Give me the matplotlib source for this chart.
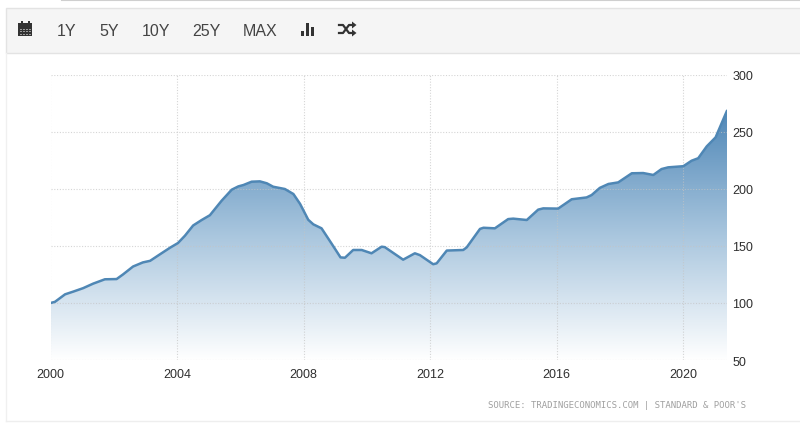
import matplotlib
matplotlib.use("Agg")
import matplotlib.pyplot as plt
from matplotlib.colors import LinearSegmentedColormap
from matplotlib.patches import Rectangle, Polygon
import numpy as np

W, H = 800, 431

years = [2000.0, 2000.14, 2000.46, 2000.72, 2001.03, 2001.35, 2001.72, 2002.09, 2002.29, 2002.61,
         2002.92, 2003.15, 2003.46, 2003.78, 2004.03, 2004.25, 2004.51, 2004.78, 2005.04, 2005.41,
         2005.73, 2005.94, 2006.10, 2006.36, 2006.62, 2006.84, 2007.04, 2007.41, 2007.68, 2007.89,
         2008.15, 2008.31, 2008.57, 2008.89, 2009.17, 2009.31, 2009.57, 2009.84, 2010.15, 2010.47,
         2010.57, 2011.15, 2011.52, 2011.68, 2012.10, 2012.21, 2012.53, 2013.05, 2013.16, 2013.58,
         2013.69, 2014.05, 2014.47, 2014.63, 2015.06, 2015.42, 2015.58, 2016.05, 2016.48, 2016.95,
         2017.11, 2017.37, 2017.64, 2017.95, 2018.38, 2018.74, 2019.06, 2019.32, 2019.53, 2020.01,
         2020.27, 2020.48, 2020.75, 2021.03, 2021.39]
values = [100, 101, 107.6, 110, 113, 117, 120.8, 121, 125, 132,
          135.6, 137, 142.7, 148.5, 152.6, 159, 168, 172.8, 177, 189.7,
          199.4, 202.3, 203.5, 206.4, 206.7, 205, 202, 200, 195.6, 187,
          173, 169, 165.5, 152, 140, 139.7, 146.5, 146.5, 143.6, 149.4,
          149, 138, 143.6, 142, 134, 134.8, 146, 146.5, 148.8, 165,
          166, 165.5, 173.6, 174, 172.8, 181.9, 183, 182.8, 191, 192.6,
          194.7, 201, 204.4, 205.8, 213.8, 214, 212.3, 217.5, 219, 220,
          224.8, 227, 237.4, 245.3, 268.7]
x_ticks = [2000, 2004, 2008, 2012, 2016, 2020]
y_ticks = [50, 100, 150, 200, 250, 300]
buttons = ["1Y", "5Y", "10Y", "25Y", "MAX"]
button_x = [57, 99, 142, 192, 243]
source = "SOURCE: TRADINGECONOMICS.COM | STANDARD & POOR'S"

fig = plt.figure(figsize=(W / 100, H / 100), dpi=100, facecolor="white")

# pixel overlay for the page furniture around the chart
bg = fig.add_axes([0, 0, 1, 1], zorder=0)
bg.set_xlim(0, W)
bg.set_ylim(H, 0)
bg.axis("off")
bg.add_patch(Rectangle((6, 9), 800, 45, fc="#f5f5f5", ec="#e3e3e3", lw=1))
bg.plot([62, W], [0.5, 0.5], color="#cfcfcf", lw=1.5)
bg.plot([6, 6], [54, 422], color="#f0f0f0", lw=1)
bg.plot([6, W], [422.5, 422.5], color="#eeeeee", lw=1)

for name, bx in zip(buttons, button_x):
    bg.text(bx, 31, name, fontsize=11.5, family="Liberation Sans", color="#444444", va="center")

# calendar icon
bg.add_patch(Rectangle((18, 24), 14, 13, fc="#333333", ec="none"))
bg.add_patch(Rectangle((20.5, 22), 2, 3, fc="#333333", ec="none"))
bg.add_patch(Rectangle((27.5, 22), 2, 3, fc="#333333", ec="none"))
for gx in (20, 23, 26, 29):
    for gy in (29.5, 32, 34.5):
        bg.add_patch(Rectangle((gx, gy), 1.5, 1.2, fc="#9a9a9a", ec="none"))

# bar chart icon
bg.add_patch(Rectangle((300.5, 32), 3.5, 5, fc="#333333", ec="none"))
bg.add_patch(Rectangle((305.5, 24), 3.5, 13, fc="#333333", ec="none"))
bg.add_patch(Rectangle((310.5, 28), 3.5, 9, fc="#333333", ec="none"))

# shuffle icon
bg.plot([339, 343, 349, 352], [26, 26, 34, 34], color="#333333", lw=1.6)
bg.plot([339, 343, 349, 352], [34, 34, 26, 26], color="#333333", lw=1.6)
bg.add_patch(Polygon([(352, 22.5), (356.5, 26), (352, 29.5)], fc="#333333", ec="none"))
bg.add_patch(Polygon([(352, 30.5), (356.5, 34), (352, 37.5)], fc="#333333", ec="none"))

bg.text(488, 406, source, fontsize=6.5, family="DejaVu Sans Mono", color="#a0a0a0", va="center")

# chart axes, 2000 at x=50.5 and 300 at y=76
ax = fig.add_axes([50.5 / W, 1 - 361 / H, (727 - 50.5) / W, (361 - 76) / H], zorder=1)
ax.patch.set_alpha(0)

cmap = LinearSegmentedColormap.from_list("fade", ["#ffffff", "#a9c6de", "#4f87b7"])
grad = np.linspace(1, 0, 256).reshape(-1, 1)
img = ax.imshow(grad, extent=[years[0], years[-1], 50, max(values)], aspect="auto",
                cmap=cmap, vmin=0, vmax=1, zorder=1)
clip = ax.fill_between(years, values, 50, color="none", lw=0)
img.set_clip_path(clip.get_paths()[0], transform=ax.transData)

ax.plot(years, values, color="#4f87b5", lw=1.8, zorder=3, solid_joinstyle="round", solid_capstyle="round")

ax.set_xlim(2000, years[-1])
ax.set_ylim(50, 300)
ax.set_xticks(x_ticks)
ax.set_yticks(y_ticks)
ax.yaxis.tick_right()
ax.grid(True, color="#c4c4c4", lw=0.8, ls=(0, (1, 1.5)), alpha=0.7, zorder=2)
ax.set_axisbelow(False)
ax.tick_params(length=0, labelsize=9, colors="#2f2f2f", pad=4)
for label in ax.get_xticklabels() + ax.get_yticklabels():
    label.set_family("Liberation Sans")
ax.tick_params(axis="x", pad=6)
for s in ax.spines.values():
    s.set_visible(False)

fig.savefig("out.png", dpi=100)
